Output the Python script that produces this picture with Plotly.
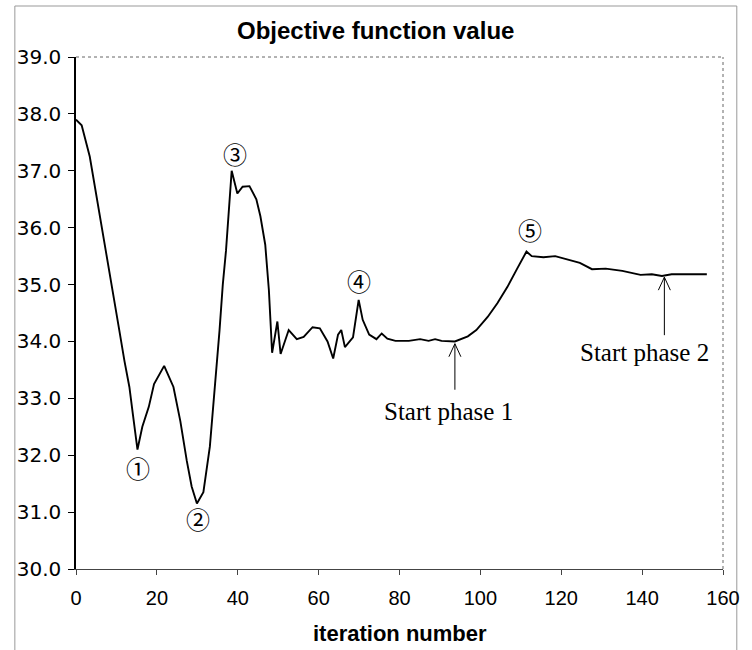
import plotly.graph_objects as go

# Objective function value per iteration
iteration = [0, 1.4, 3.4, 5.4, 7.5, 9.1, 10.7, 12, 13.2, 14.1, 15.2, 16.4, 18, 19.3,
             21.8, 24.1, 25.8, 27.4, 28.6, 29.9, 31.5, 33.1, 34.3, 35.5, 36.3, 37.1,
             38.5, 39.9, 41.2, 42.9, 44.6, 45.6, 46.8, 47.7, 48.5, 49.8, 50.6, 52.6,
             54.6, 56.3, 58.5, 60.3, 62.2, 63.6, 64.8, 65.6, 66.5, 68.5, 69.9, 70.9,
             72.5, 74.3, 75.6, 77, 79, 82.3, 85.1, 87.2, 88.8, 90.4, 93.7, 96.9, 99,
             101.8, 104.2, 106.7, 109.1, 111.4, 112.7, 115.6, 118.5, 122.1, 124.6,
             127.6, 131, 135.1, 139.6, 142.4, 144.9, 147.3, 156]
objective = [37.9, 37.8, 37.25, 36.4, 35.5, 34.8, 34.2, 33.65, 33.2, 32.7, 32.1, 32.5,
             32.85, 33.25, 33.57, 33.2, 32.6, 31.9, 31.45, 31.15, 31.35, 32.15, 33.15,
             34.2, 35.0, 35.6, 37.0, 36.6, 36.72, 36.73, 36.5, 36.2, 35.7, 34.9, 33.8,
             34.35, 33.78, 34.2, 34.04, 34.08, 34.25, 34.23, 34.0, 33.7, 34.12, 34.2,
             33.9, 34.07, 34.73, 34.38, 34.12, 34.04, 34.14, 34.05, 34.01, 34.01, 34.04,
             34.01, 34.04, 34.01, 34.0, 34.09, 34.2, 34.43, 34.67, 34.96, 35.28, 35.58,
             35.5, 35.48, 35.5, 35.43, 35.38, 35.27, 35.28, 35.24, 35.17, 35.18, 35.15,
             35.18, 35.18]

# Circled markers for notable points: label, x, y
marker_labels = ["①", "②", "③", "④", "⑤"]
marker_x = [15.4, 30.1, 39.4, 69.9, 112.2]
marker_y = [31.79, 30.88, 37.31, 35.07, 35.97]

# Phase starts: label, arrow tip (x, y), text position (x, y)
phase_labels = ["Start phase 1", "Start phase 2"]
phase_tip_x = [93.7, 145.5]
phase_tip_y = [33.96, 35.13]
phase_text_x = [92.2, 140.7]
phase_text_y = [32.77, 33.81]

x_ticks = [0, 20, 40, 60, 80, 100, 120, 140, 160]
y_ticks = [30, 31, 32, 33, 34, 35, 36, 37, 38, 39]

SANS = "Liberation Sans, Arial, sans-serif"
WIDE_SANS = "DejaVu Sans, Arial, sans-serif"
SERIF = "Liberation Serif, Times New Roman, serif"

fig = go.Figure()
fig.add_trace(go.Scatter(
    x=iteration, y=objective, mode="lines",
    line=dict(color="black", width=1.9),
    showlegend=False, hoverinfo="skip",
))

annotations = [
    dict(text="<b>Objective function value</b>", xref="paper", yref="paper",
         x=(380 - 76) / 656, y=1.0508, xanchor="center", yanchor="middle",
         showarrow=False, font=dict(family=SANS, size=24, color="black")),
    dict(text="<b>iteration number</b>", xref="paper", yref="paper",
         x=0.5, y=-(633 - 569) / 512, xanchor="center", yanchor="middle",
         showarrow=False, font=dict(family=SANS, size=22, color="black")),
]
for lab, mx, my in zip(marker_labels, marker_x, marker_y):
    annotations.append(dict(text=lab, x=mx, y=my, xref="x", yref="y",
                            showarrow=False, xanchor="center", yanchor="middle",
                            font=dict(family="Noto Sans CJK JP", size=24, color="black")))
for lab, tx, ty in zip(phase_labels, phase_text_x, phase_text_y):
    annotations.append(dict(text=lab, x=tx, y=ty, xref="x", yref="y",
                            showarrow=False, xanchor="center", yanchor="middle",
                            font=dict(family=SERIF, size=25, color="black")))

shapes = []
# Open arrows pointing up at the curve
shaft_len = [46, 58]
for tx, ty, L in zip(phase_tip_x, phase_tip_y, shaft_len):
    shapes.append(dict(
        type="path", xref="x", yref="y",
        xsizemode="pixel", ysizemode="pixel", xanchor=tx, yanchor=ty,
        path=f"M0,0 L0,-{L} M-6,-13 L0,0 L6,-13",
        line=dict(color="black", width=1),
    ))
# Plot-area frame (top and right edges)
shapes.append(dict(type="line", xref="paper", yref="paper", x0=0, x1=1, y0=1, y1=1,
                   line=dict(color="#666", width=1, dash="dot")))
shapes.append(dict(type="line", xref="paper", yref="paper", x0=1, x1=1, y0=0, y1=1,
                   line=dict(color="#666", width=1, dash="dot")))
# Outer chart border
bx0, bx1 = (14 - 76) / 656, (746 - 76) / 656
by0, by1 = (569 - 652) / 512, (569 - 6) / 512
shapes.append(dict(type="rect", xref="paper", yref="paper",
                   x0=bx0, x1=bx1, y0=by0, y1=by1,
                   line=dict(color="#999", width=1), layer="below"))

fig.update_layout(
    width=752, height=650,
    margin=dict(l=76, r=20, t=57, b=81),
    paper_bgcolor="white", plot_bgcolor="white",
    showlegend=False,
    annotations=annotations,
    shapes=shapes,
    xaxis=dict(
        range=[0, 160], tickvals=x_ticks, ticktext=[str(v) for v in x_ticks],
        showgrid=False, zeroline=False, showline=True, linecolor="#444", linewidth=1,
        ticks="outside", ticklen=5, tickcolor="#444", ticklabelstandoff=6,
        tickfont=dict(family=SANS, size=20, color="black"),
    ),
    yaxis=dict(
        range=[30, 39], tickvals=y_ticks, ticktext=[f"{v:.1f}" for v in y_ticks],
        showgrid=False, zeroline=False, showline=True, linecolor="black", linewidth=1.5,
        ticks="outside", ticklen=6, tickcolor="black", ticklabelstandoff=3,
        tickfont=dict(family=WIDE_SANS, size=20, color="black"),
    ),
)

fig.write_html("out.html")
